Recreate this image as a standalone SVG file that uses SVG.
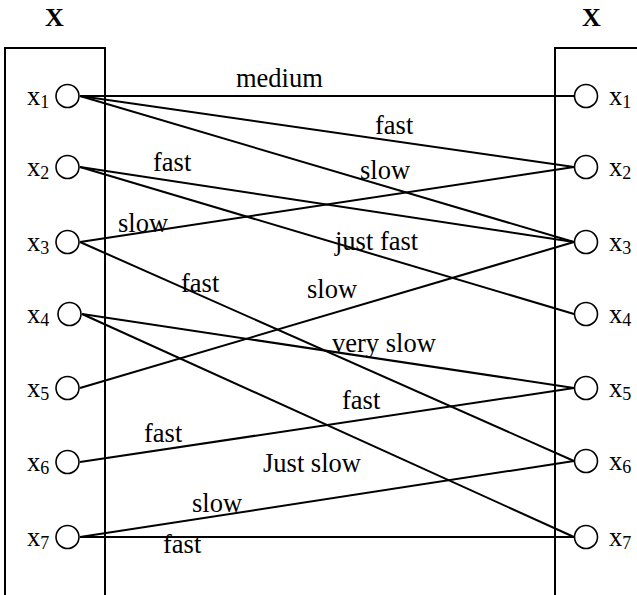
<svg xmlns="http://www.w3.org/2000/svg" width="637" height="595" viewBox="0 0 637 595">
<style>
text{font-family:"Liberation Serif","Times New Roman",serif;font-size:26.5px;fill:#000}
.h{font-weight:bold;font-size:26px}
.sub{font-size:18px}
.box{fill:none;stroke:#000;stroke-width:2}
.n{fill:#fff;stroke:#000;stroke-width:1.6}
#edges line{stroke:#000;stroke-width:2}
</style>
<rect width="637" height="595" fill="#fff"/>
<g id="frames">
<path class="box" d="M5,595 V48 H105 V595"/>
<path class="box" d="M637,48 H555 V595"/>
<text class="h" x="45" y="26">X</text>
<text class="h" x="582" y="26">X</text>
</g>
<g id="edges">
<line x1="80" y1="96" x2="574" y2="96"/>
<line x1="80" y1="96" x2="574" y2="167"/>
<line x1="80" y1="96" x2="574" y2="242"/>
<line x1="80" y1="167" x2="574" y2="242"/>
<line x1="80" y1="167" x2="574" y2="314"/>
<line x1="80" y1="242" x2="574" y2="167"/>
<line x1="80" y1="242" x2="574" y2="461"/>
<line x1="82" y1="314" x2="574" y2="388"/>
<line x1="82" y1="314" x2="574" y2="537"/>
<line x1="80" y1="388" x2="574" y2="242"/>
<line x1="80" y1="462" x2="574" y2="388"/>
<line x1="80" y1="537" x2="574" y2="461"/>
<line x1="80" y1="537" x2="574" y2="537"/>
<text x="236" y="87">medium</text>
<text x="375" y="134">fast</text>
<text x="360" y="179">slow</text>
<text x="153" y="171">fast</text>
<text x="118" y="232">slow</text>
<text x="181" y="292">fast</text>
<text x="335" y="250">just fast</text>
<text x="307" y="298">slow</text>
<text x="332" y="352">very slow</text>
<text x="342" y="409">fast</text>
<text x="263" y="472">Just slow</text>
<text x="144" y="442">fast</text>
<text x="192" y="512">slow</text>
<text x="163" y="553">fast</text>
</g>
<g id="L1"><circle class="n" cx="67.5" cy="96" r="11.5"/><text x="27" y="105">x<tspan class="sub" dy="3">1</tspan></text></g>
<g id="L2"><circle class="n" cx="67.5" cy="167" r="11.5"/><text x="27" y="176">x<tspan class="sub" dy="3">2</tspan></text></g>
<g id="L3"><circle class="n" cx="67.5" cy="242" r="11.5"/><text x="27" y="251">x<tspan class="sub" dy="3">3</tspan></text></g>
<g id="L4"><circle class="n" cx="69.5" cy="314" r="11.5"/><text x="27" y="323">x<tspan class="sub" dy="3">4</tspan></text></g>
<g id="L5"><circle class="n" cx="67.5" cy="388" r="11.5"/><text x="27" y="397">x<tspan class="sub" dy="3">5</tspan></text></g>
<g id="L6"><circle class="n" cx="67.5" cy="462" r="11.5"/><text x="27" y="471">x<tspan class="sub" dy="3">6</tspan></text></g>
<g id="L7"><circle class="n" cx="67.5" cy="537" r="11.5"/><text x="27" y="546">x<tspan class="sub" dy="3">7</tspan></text></g>
<g id="R1"><circle class="n" cx="586" cy="96" r="11.5"/><text x="609" y="105">x<tspan class="sub" dy="3">1</tspan></text></g>
<g id="R2"><circle class="n" cx="586" cy="167" r="11.5"/><text x="609" y="176">x<tspan class="sub" dy="3">2</tspan></text></g>
<g id="R3"><circle class="n" cx="586" cy="242" r="11.5"/><text x="609" y="251">x<tspan class="sub" dy="3">3</tspan></text></g>
<g id="R4"><circle class="n" cx="586" cy="314" r="11.5"/><text x="609" y="323">x<tspan class="sub" dy="3">4</tspan></text></g>
<g id="R5"><circle class="n" cx="586" cy="388" r="11.5"/><text x="609" y="397">x<tspan class="sub" dy="3">5</tspan></text></g>
<g id="R6"><circle class="n" cx="586" cy="461" r="11.5"/><text x="609" y="470">x<tspan class="sub" dy="3">6</tspan></text></g>
<g id="R7"><circle class="n" cx="586" cy="537" r="11.5"/><text x="609" y="546">x<tspan class="sub" dy="3">7</tspan></text></g>
</svg>
